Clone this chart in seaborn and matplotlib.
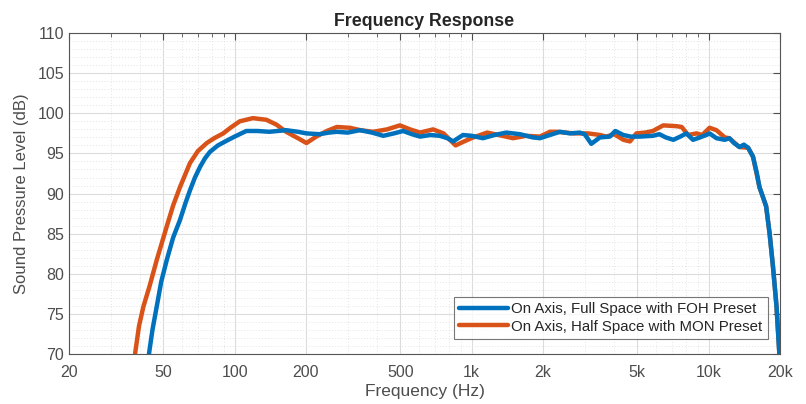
import numpy as np
import pandas as pd
import seaborn as sns
import matplotlib
matplotlib.use("Agg")
import matplotlib.pyplot as plt
from matplotlib.ticker import FixedLocator, FixedFormatter, MultipleLocator, LogLocator, NullFormatter

# FOH preset, full space (blue)
foh_freq = [43.5, 45, 46.9, 49, 51.7, 55, 58.8, 62, 64.8, 68, 71.4, 75, 78.7, 85, 92.7,
            100, 112, 125, 140, 165, 185, 201, 228, 250, 270, 300, 338, 380, 424, 470,
            514, 560, 606, 670, 734, 790, 836, 920, 1000, 1116, 1250, 1400, 1600, 1812,
            1942, 2140, 2360, 2600, 2860, 3000, 3200, 3480, 3830, 4040, 4370, 4700, 5130,
            5820, 6200, 6600, 7100, 7600, 8060, 8600, 9200, 9780, 10100, 10800, 11700,
            12240, 12800, 13500, 14100, 14700, 15400, 16000, 16400, 17000, 17500, 18100,
            18700, 19360, 19900]
foh_spl = [70, 73, 75.9, 79, 81.7, 84.5, 86.7, 88.8, 90.4, 92, 93.3, 94.4, 95.2, 96.0, 96.6,
           97.1, 97.8, 97.8, 97.7, 97.9, 97.7, 97.5, 97.4, 97.6, 97.7, 97.6, 97.9, 97.6, 97.2, 97.5,
           97.8, 97.4, 97.1, 97.3, 97.2, 96.9, 96.5, 97.3, 97.2, 96.9, 97.3, 97.6, 97.4, 97.0,
           96.9, 97.3, 97.7, 97.5, 97.6, 97.4, 96.2, 97.0, 97.1, 97.8, 97.3, 97.1, 97.1,
           97.2, 97.4, 97.0, 96.7, 97.1, 97.5, 96.7, 97.0, 97.3, 97.5, 96.9, 96.7,
           96.9, 96.3, 95.8, 96.1, 95.7, 94.6, 92.5, 90.8, 89.5, 88.4, 85.0,
           80.9, 75.9, 70]

# MON preset, half space (orange)
mon_freq = [38, 39.5, 41.2, 43.7, 46.9, 51.7, 55, 58.8, 64.8, 70, 76.3, 82, 89.5, 96, 105,
            119.4, 136, 150, 165, 185, 201, 221, 245, 270, 306, 340, 384, 440, 498, 550,
            606, 688, 761, 856, 930, 1017, 1164, 1300, 1496, 1700, 1942, 2140, 2300, 2700,
            3100, 3480, 3700, 4000, 4370, 4660, 4960, 5400, 5820, 6440, 7320, 7700, 8200,
            8900, 9400, 10100, 10800, 11700, 12240, 13500, 14700, 15400, 16400, 17500,
            18100, 18700, 19360, 19900]
mon_spl = [70, 73.5, 75.9, 78.4, 81.7, 85.9, 88.5, 90.8, 93.8, 95.3, 96.3, 96.9, 97.5, 98.2, 99.0,
           99.4, 99.2, 98.6, 97.7, 96.9, 96.3, 97.1, 97.8, 98.3, 98.2, 97.9, 97.7, 98.0, 98.5, 98.0,
           97.6, 98.0, 97.5, 96.0, 96.5, 97.0, 97.6, 97.3, 96.9, 97.2, 97.1, 97.7, 97.7, 97.5,
           97.5, 97.3, 97.1, 97.4, 96.7, 96.5, 97.5, 97.6, 97.8, 98.5, 98.4, 98.3, 97.3,
           97.5, 97.3, 98.2, 97.9, 97.0, 96.9, 95.8, 95.7, 94.6, 90.8, 88.4,
           85.0, 80.9, 75.9, 70]

x_ticks = [20, 50, 100, 200, 500, 1000, 2000, 5000, 10000, 20000]
x_labels = ["20", "50", "100", "200", "500", "1k", "2k", "5k", "10k", "20k"]

sns.set_theme(style="white")
plt.rcParams["font.family"] = ["Liberation Sans", "DejaVu Sans"]

fig = plt.figure(figsize=(8.06, 4.04), dpi=100)
ax = fig.add_axes([0.0856, 0.1238, 0.882, 0.7942])

text_c = "#4d4d4d"
sns.lineplot(x=mon_freq, y=mon_spl, ax=ax, color="#D95319", linewidth=3.2,
             estimator=None, sort=False, label="On Axis, Half Space with MON Preset")
sns.lineplot(x=foh_freq, y=foh_spl, ax=ax, color="#0072BD", linewidth=3.2,
             estimator=None, sort=False, label="On Axis, Full Space with FOH Preset")

ax.set_xscale("log")
ax.set_xlim(20, 20000)
ax.set_ylim(70, 110)
ax.xaxis.set_major_locator(FixedLocator(x_ticks))
ax.xaxis.set_major_formatter(FixedFormatter(x_labels))
ax.xaxis.set_minor_locator(LogLocator(base=10, subs=np.arange(2, 10)))
ax.xaxis.set_minor_formatter(NullFormatter())
ax.yaxis.set_major_locator(MultipleLocator(5))
ax.yaxis.set_minor_locator(MultipleLocator(1))

ax.grid(True, which="major", color="#dcdcdc", linewidth=0.8, linestyle="-")
ax.grid(True, which="minor", color="#e4e4e4", linewidth=0.7, linestyle=(0, (1, 2)))
ax.set_axisbelow(True)

ax.tick_params(which="both", direction="in", top=True, right=True, colors=text_c,
               labelsize=11.5)
ax.tick_params(which="major", length=5, width=0.8)
ax.tick_params(axis="x", which="major", pad=8)
ax.tick_params(axis="x", which="minor", length=3, width=0.6)
ax.tick_params(axis="y", which="minor", length=0)
for s in ax.spines.values():
    s.set_color("#555555")
    s.set_linewidth(0.8)

ax.set_title("Frequency Response", fontsize=12.8, fontweight="bold", color="#262626", pad=5)
ax.set_xlabel("Frequency (Hz)", fontsize=12.5, color=text_c, labelpad=3)
ax.set_ylabel("Sound Pressure Level (dB)", fontsize=12, color=text_c, labelpad=6)

h, l = ax.get_legend_handles_labels()
leg = ax.legend(h[::-1], l[::-1], loc="lower right", bbox_to_anchor=(0.983, 0.047),
                fontsize=10.8, frameon=True, fancybox=False, handlelength=3.3,
                handletextpad=0.2, borderpad=0.35, labelspacing=0.25, borderaxespad=0)
leg.get_frame().set_edgecolor("#555555")
leg.get_frame().set_linewidth(0.8)
for t in leg.get_texts():
    t.set_color("#262626")

fig.savefig("out.png", dpi=100)
